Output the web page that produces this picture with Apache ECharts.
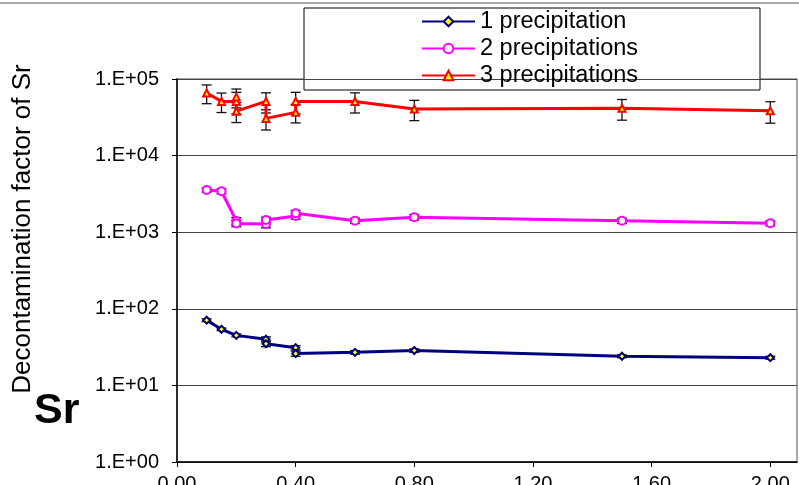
<!DOCTYPE html>
<html lang="en">
<head>
<meta charset="UTF-8">
<title>Sr decontamination factor</title>
<script src="https://cdn.jsdelivr.net/npm/echarts@6/dist/echarts.min.js"></script>
<style>
  html, body { margin: 0; padding: 0; background: #fff; }
  #chart { width: 799px; height: 485px; }
</style>
</head>
<body>
<div id="chart"></div>
<script>
// data (x = concentration, y = decontamination factor, err = +/- bar)
var seriesNames = ['1 precipitation', '2 precipitations', '3 precipitations'];

var x1 = [0.10, 0.15, 0.20, 0.30, 0.30, 0.40, 0.40, 0.60, 0.80, 1.50, 2.00];
var y1 = [71, 54, 45, 40, 35, 31, 26, 27, 28.5, 24, 23];
var e1 = [3, 2, 2, 3, 3, 2, 2, 1.5, 1.5, 1, 1];

var x2 = [0.10, 0.15, 0.20, 0.20, 0.30, 0.30, 0.40, 0.40, 0.60, 0.80, 1.50, 2.00];
var y2 = [3560, 3420, 1400, 1300, 1280, 1440, 1630, 1770, 1410, 1570, 1410, 1310];
var e2 = [220, 250, 150, 120, 140, 130, 150, 150, 110, 130, 110, 100];

var x3 = [0.10, 0.15, 0.20, 0.20, 0.20, 0.30, 0.30, 0.40, 0.40, 0.60, 0.80, 1.50, 2.00];
var y3 = [65600, 51000, 51000, 58000, 38000, 51000, 30600, 36700, 51000, 51000, 40600, 41500, 38500];
var e3 = [18000, 14500, 16000, 16000, 11000, 15000, 9000, 10000, 16000, 15000, 12000, 12500, 12000];

var xTicks = [0, 0.4, 0.8, 1.2, 1.6, 2.0];

var chart = echarts.init(document.getElementById('chart'));
var font = 'Liberation Sans, Arial, sans-serif';

function pairs(xs, ys) {
    var out = [];
    for (var i = 0; i < xs.length; i++) out.push([xs[i], ys[i]]);
    return out;
}
function errRows(xs, ys, es) {
    var out = [];
    for (var i = 0; i < xs.length; i++) out.push([xs[i], Math.max(ys[i] - es[i], 1), ys[i] + es[i]]);
    return out;
}

function errSeries(xs, ys, es) {
    return {
        type: 'custom',
        silent: true,
        z: 1,
        data: errRows(xs, ys, es),
        renderItem: function (params, api) {
            var lo = api.coord([api.value(0), api.value(1)]);
            var hi = api.coord([api.value(0), api.value(2)]);
            var w = 5;
            var st = { stroke: '#111', lineWidth: 1.3 };
            return {
                type: 'group',
                children: [
                    { type: 'line', shape: { x1: lo[0], y1: lo[1], x2: hi[0], y2: hi[1] }, style: st },
                    { type: 'line', shape: { x1: lo[0] - w, y1: lo[1], x2: lo[0] + w, y2: lo[1] }, style: st },
                    { type: 'line', shape: { x1: hi[0] - w, y1: hi[1], x2: hi[0] + w, y2: hi[1] }, style: st }
                ]
            };
        }
    };
}

var option = {
    animation: false,
    textStyle: { fontFamily: font },
    grid: {
        left: 177, right: 2, top: 79, bottom: 23,
        outerBoundsMode: 'none',
        containLabel: false,
        show: true, borderColor: '#8c8c8c', borderWidth: 1.5
    },
    legend: {
        orient: 'vertical',
        left: 421, top: 8,
        padding: 0,
        itemGap: 0,
        itemWidth: 53,
        itemHeight: 12,
        z: 20,
        data: seriesNames,
        textStyle: { fontSize: 23.5, color: '#000', lineHeight: 27, fontFamily: font }
    },
    xAxis: {
        type: 'value',
        min: 0, max: 2.09, interval: 0.4,
        splitLine: { show: false },
        axisLine: { lineStyle: { color: '#000', width: 1.5 } },
        axisTick: {
            show: true, length: 5, lineStyle: { color: '#000' },
            customValues: xTicks
        },
        axisLabel: {
            margin: 12, fontSize: 20, color: '#000',
            customValues: xTicks,
            formatter: function (v) { return v.toFixed(2); }
        }
    },
    yAxis: {
        type: 'log',
        logBase: 10,
        min: 1, max: 100000,
        splitLine: { show: true, lineStyle: { color: '#444', width: 1.2 } },
        axisLine: { show: true, lineStyle: { color: '#000', width: 1.5 } },
        axisTick: { show: true, length: 5, lineStyle: { color: '#000' } },
        axisLabel: {
            margin: 18, fontSize: 20, color: '#000',
            formatter: function (v) {
                var p = Math.round(Math.log10(v));
                return '1.E+' + (p < 10 ? '0' + p : p);
            }
        }
    },
    series: [
        errSeries(x1, y1, e1),
        errSeries(x2, y2, e2),
        errSeries(x3, y3, e3),
        {
            name: seriesNames[0], type: 'line', z: 3,
            data: pairs(x1, y1),
            symbol: 'diamond', symbolSize: 7,
            lineStyle: { color: '#000080', width: 3 },
            itemStyle: { color: '#ffff00', borderColor: '#000080', borderWidth: 2 }
        },
        {
            name: seriesNames[1], type: 'line', z: 3,
            data: pairs(x2, y2),
            symbol: 'circle', symbolSize: 8,
            lineStyle: { color: '#ff00ff', width: 3 },
            itemStyle: { color: '#ffffff', borderColor: '#ff00ff', borderWidth: 2 }
        },
        {
            name: seriesNames[2], type: 'line', z: 3,
            data: pairs(x3, y3),
            symbol: 'triangle', symbolSize: 7,
            lineStyle: { color: '#ff0000', width: 3 },
            itemStyle: { color: '#ffff00', borderColor: '#ff0000', borderWidth: 2 }
        }
    ],
    graphic: {
        z: 2,
        elements: [
            // outer frame of the chart area
            { type: 'line', shape: { x1: 0, y1: 3, x2: 799, y2: 3 }, style: { stroke: '#8c8c8c', lineWidth: 1.5 } },
            // legend box
            { type: 'rect', shape: { x: 304, y: 8, width: 456, height: 82 },
              style: { fill: '#fff', stroke: '#000', lineWidth: 1 } },
            {
                type: 'text', x: 23, y: 229, rotation: Math.PI / 2,
                style: {
                    text: 'Decontamination factor of Sr', fill: '#000',
                    font: '26px ' + font, align: 'center', verticalAlign: 'middle'
                }
            },
            {
                type: 'text', left: 34, top: 390,
                style: {
                    text: 'Sr', fill: '#000',
                    font: 'bold 43px "Liberation Sans Narrow", "Liberation Sans", sans-serif'
                }
            }
        ]
    }
};
chart.setOption(option);
</script>
</body>
</html>
